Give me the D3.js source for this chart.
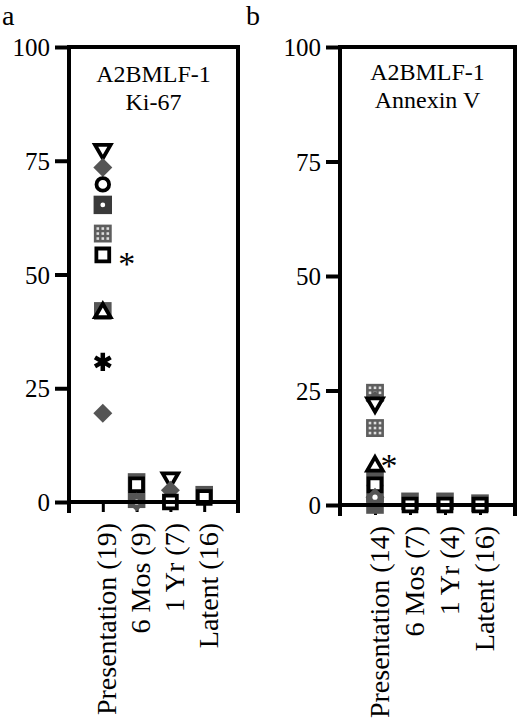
<!DOCTYPE html>
<html>
<head>
<meta charset="utf-8">
<script src="https://cdn.jsdelivr.net/npm/d3@7"></script>
<style>
  body { margin: 0; background: #fff; }
  svg text { font-family: "Liberation Serif", "Times New Roman", serif; fill: #000; }
</style>
</head>
<body>
<svg id="chart" width="520" height="724"></svg>
<script>
/*
Data
*/

const categoriesA = ["Presentation (19)", "6 Mos (9)", "1 Yr (7)", "Latent (16)"];
const categoriesB = ["Presentation (14)", "6 Mos (7)", "1 Yr (4)", "Latent (16)"];
const yTicks = [0, 25, 50, 75, 100];
const titleA = ["A2BMLF-1", "Ki-67"];
const titleB = ["A2BMLF-1", "Annexin V"];

// [category index, value %, marker] - drawn back to front
const pointsA = [
  [0, 77.5, "triDown"],
  [0, 73.5, "grayDiamond"],
  [0, 69.8, "circle"],
  [0, 65.3, "dotSquare"],
  [0, 59.0, "gridSquare"],
  [0, 54.3, "square"],
  [0, 42.0, "graySquare"],
  [0, 41.6, "triUp"],
  [0, 30.8, "star"],
  [0, 19.5, "grayDiamond"],
  [1, 4.4, "graySquare"],
  [1, 0.6, "graySquare"],
  [1, 3.8, "square"],
  [1, 0.0, "dotDiamond"],
  [2, 5.3, "triDown"],
  [2, 2.6, "grayDiamond"],
  [2, 0.0, "square"],
  [3, 1.6, "graySquare"],
  [3, 1.0, "square"]
];

const pointsB = [
  [0, 24.5, "gridSquare"],
  [0, 22.8, "grayDiamond"],
  [0, 22.3, "triDown"],
  [0, 16.8, "gridSquare"],
  [0, 6.0, "graySquare"],
  [0, 2.5, "graySquare"],
  [0, 0.0, "graySquare"],
  [0, 8.5, "triUp"],
  [0, 4.4, "square"],
  [0, 1.7, "dotDiamond"],
  [1, 0.8, "graySquare"],
  [1, 0.0, "square"],
  [2, 0.8, "graySquare"],
  [2, 0.0, "square"],
  [3, 0.4, "graySquare"],
  [3, 0.0, "square"]
];

// significance marks: [category index, value]
const starA = [0, 54.3];
const starB = [0, 8.5];

/*
Layout
*/

const FONT = "'Liberation Serif', 'Times New Roman', serif";
const GRAY = "#555";

const panelA = { left: 69, right: 238, top: 47, bottom: 502, tag: "a", tagX: 2,   titleY: [82, 110], starDx: 24, starDy: 20 };
const panelB = { left: 340, right: 515, top: 47, bottom: 505, tag: "b", tagX: 246, titleY: [80, 108], starDx: 14, starDy: 11 };

const svg = d3.select("#chart");

/*
Markers
*/

function marker(sel, type) {
  const sym = (t, s) => d3.symbol(t, s)();
  const open = p => p.attr("fill", "#fff").attr("stroke", "#000")
    .attr("stroke-width", 3.8).attr("stroke-linejoin", "miter");

  switch (type) {
    case "square":
      open(sel.append("path").attr("d", sym(d3.symbolSquare, 165)));
      break;
    case "circle":
      open(sel.append("circle").attr("r", 6.3));
      break;
    case "triUp":
      open(sel.append("path").attr("d", sym(d3.symbolTriangle, 105)));
      break;
    case "triDown":
      open(sel.append("path").attr("d", sym(d3.symbolTriangle, 105)).attr("transform", "rotate(180)"));
      break;
    case "graySquare":
      sel.append("path").attr("d", sym(d3.symbolSquare, 310)).attr("fill", GRAY);
      break;
    case "grayDiamond":
    case "dotDiamond":
      sel.append("path").attr("d", sym(d3.symbolSquare, 180))
        .attr("transform", "rotate(45)").attr("fill", GRAY);
      if (type === "dotDiamond") sel.append("circle").attr("r", 2.6).attr("fill", "#fff");
      break;
    case "dotSquare":
      sel.append("path").attr("d", sym(d3.symbolSquare, 340)).attr("fill", "#3a3a3a");
      sel.append("circle").attr("r", 2.4).attr("fill", "#fff");
      break;
    case "gridSquare":
      sel.append("path").attr("d", sym(d3.symbolSquare, 320)).attr("fill", "#5e5e5e");
      [-5, 0, 5].forEach(dx => [-5, 0, 5].forEach(dy => {
        sel.append("rect").attr("x", dx - 1.3).attr("y", dy - 1.3)
          .attr("width", 2.6).attr("height", 2.6).attr("fill", "#ddd");
      }));
      break;
    case "star":
      sel.append("path").attr("d", sym(d3.symbolAsterisk, 230))
        .attr("fill", "none").attr("stroke", "#000").attr("stroke-width", 4.5);
      break;
  }
}

/*
Panel
*/

function drawPanel(cfg, categories, points, title, star) {
  const x = d3.scalePoint().domain(categories).range([cfg.left, cfg.right]).padding(1);
  const y = d3.scaleLinear().domain([0, 100]).range([cfg.bottom, cfg.top]);

  const g = svg.append("g");

  // panel letter
  g.append("text")
    .attr("x", cfg.tagX).attr("y", 25)
    .attr("font-size", 28)
    .text(cfg.tag);

  // frame
  g.append("rect")
    .attr("x", cfg.left).attr("y", cfg.top)
    .attr("width", cfg.right - cfg.left)
    .attr("height", cfg.bottom - cfg.top)
    .attr("fill", "none").attr("stroke", "#000").attr("stroke-width", 4);

  g.selectAll("line.end")
    .data([cfg.left, cfg.right])
    .enter().append("line")
    .attr("x1", d => d).attr("x2", d => d)
    .attr("y1", cfg.bottom).attr("y2", cfg.bottom + 11)
    .attr("stroke", "#000").attr("stroke-width", 4);

  // y axis
  const yAxis = g.append("g")
    .attr("transform", `translate(${cfg.left},0)`)
    .call(d3.axisLeft(y).tickValues(yTicks).tickSize(14).tickSizeOuter(0).tickPadding(5));
  yAxis.attr("font-family", FONT).attr("font-size", 25);
  yAxis.select(".domain").remove();
  yAxis.selectAll(".tick line").attr("stroke-width", 4);
  yAxis.selectAll(".tick text").attr("dy", "0.34em");

  // x axis
  const xAxis = g.append("g")
    .attr("transform", `translate(0,${cfg.bottom})`)
    .call(d3.axisBottom(x).tickSize(10).tickSizeOuter(0));
  xAxis.attr("font-family", FONT).attr("font-size", 28);
  xAxis.select(".domain").remove();
  xAxis.selectAll(".tick line").attr("stroke-width", 3);
  xAxis.selectAll(".tick text")
    .attr("transform", "rotate(-90)")
    .attr("x", -21).attr("y", 13).attr("dy", 0)
    .attr("text-anchor", "end");

  // title
  g.selectAll("text.title")
    .data(title)
    .enter().append("text")
    .attr("class", "title")
    .attr("x", (cfg.left + cfg.right) / 2)
    .attr("y", (d, i) => cfg.titleY[i])
    .attr("text-anchor", "middle")
    .attr("font-size", 24)
    .text(d => d);

  // points
  g.append("g")
    .selectAll("g.pt")
    .data(points)
    .enter().append("g")
    .attr("class", "pt")
    .attr("transform", d => `translate(${x(categories[d[0]])},${y(d[1])})`)
    .each(function (d) { marker(d3.select(this), d[2]); });

  // significance asterisk
  g.append("text")
    .attr("x", x(categories[star[0]]) + cfg.starDx)
    .attr("y", y(star[1]) + cfg.starDy)
    .attr("text-anchor", "middle")
    .attr("font-size", 34)
    .text("*");

  // thicken baseline over markers
  g.append("line")
    .attr("x1", cfg.left).attr("x2", cfg.right)
    .attr("y1", cfg.bottom).attr("y2", cfg.bottom)
    .attr("stroke", "#000").attr("stroke-width", 4);
}

drawPanel(panelA, categoriesA, pointsA, titleA, starA);
drawPanel(panelB, categoriesB, pointsB, titleB, starB);
</script>
</body>
</html>
